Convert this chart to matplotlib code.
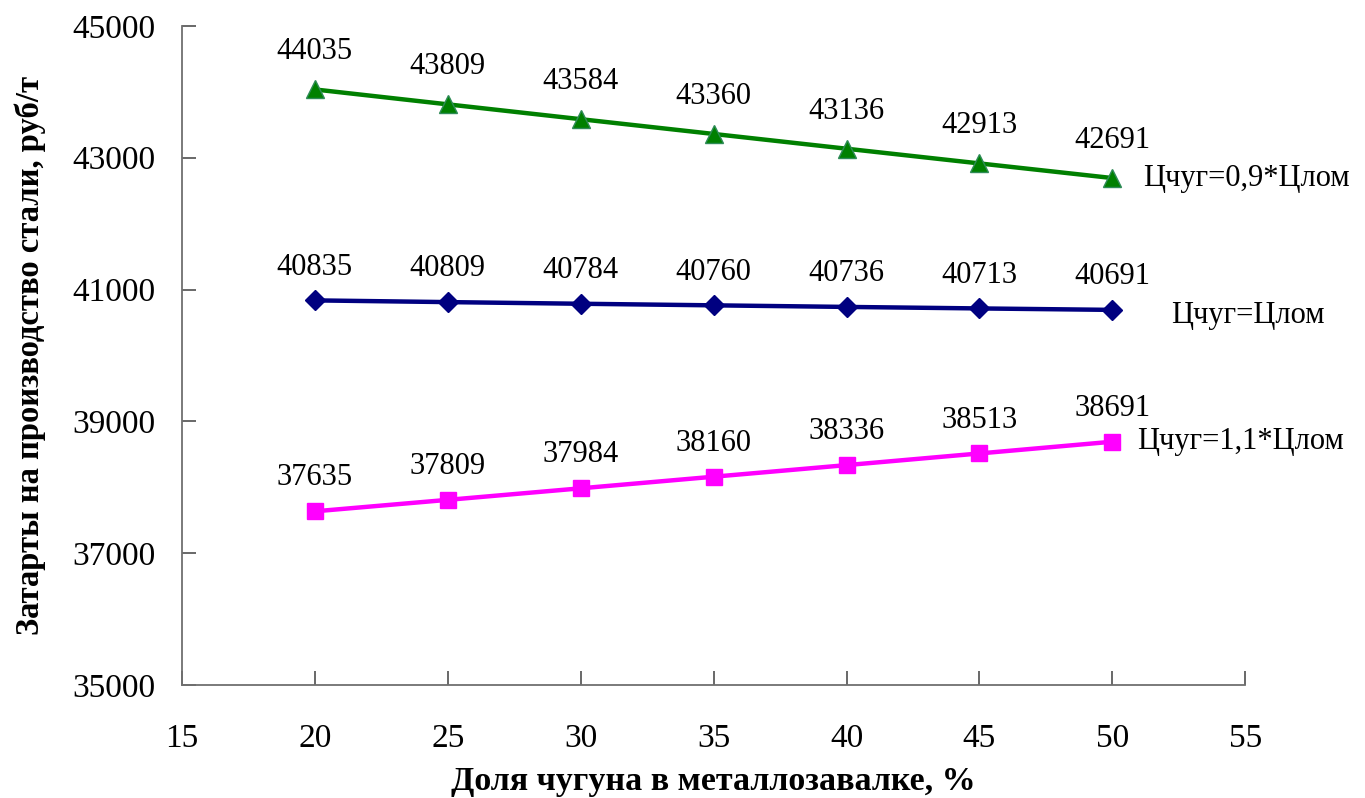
import matplotlib
matplotlib.use("Agg")
import matplotlib.pyplot as plt

plt.rcParams['font.family'] = ['Liberation Serif', 'DejaVu Serif']

# доля чугуна, %
share = [20, 25, 30, 35, 40, 45, 50]

cost_09 = [44035, 43809, 43584, 43360, 43136, 42913, 42691]
cost_10 = [40835, 40809, 40784, 40760, 40736, 40713, 40691]
cost_11 = [37635, 37809, 37984, 38160, 38336, 38513, 38691]

names = ['Цчуг=0,9*Цлом', 'Цчуг=Цлом', 'Цчуг=1,1*Цлом']

xticks = [15, 20, 25, 30, 35, 40, 45, 50, 55]
yticks = [35000, 37000, 39000, 41000, 43000, 45000]

fig = plt.figure(figsize=(13.65, 7.98), dpi=100)
ax = fig.add_axes([0.1333, 0.1416, 0.779, 0.826])

series = [
    (cost_09, '#008000', '^', 13, 27, (22, 0)),
    (cost_10, '#000080', 'D', 10, 24, (42, -4)),
    (cost_11, '#FF00FF', 's', 12, 24, (18, 0)),
]

for (vals, col, mk, ms, dy, lab_off), name in zip(series, names):
    mec = '#2e8b57' if mk == '^' else col
    ax.plot(share, vals, color=col, lw=3.2, marker=mk, ms=ms,
            mfc=col, mec=mec, mew=1, zorder=3, clip_on=False)
    for x, v in zip(share, vals):
        ax.annotate(str(v), (x, v), xytext=(0, dy), textcoords='offset points',
                    ha='center', va='center', fontsize=22)
    ax.annotate(name, (share[-1], vals[-1]), xytext=lab_off,
                textcoords='offset points', ha='left', va='center',
                fontsize=22)

ax.set_xlim(15, 55)
ax.set_ylim(35000, 45000)
ax.set_xticks(xticks)
ax.set_yticks(yticks)

for s in ['top', 'right']:
    ax.spines[s].set_visible(False)
for s in ['left', 'bottom']:
    ax.spines[s].set_color('#707070')
    ax.spines[s].set_linewidth(1.3)

ax.tick_params(direction='in', length=10, width=1.1, color='#404040',
               labelsize=24, pad=19)
ax.tick_params(axis='x', pad=28)

ax.set_xlabel('Доля чугуна в металлозавалке, %', fontsize=24.5,
              fontweight='bold', labelpad=8)
ax.set_ylabel('Затарты на производство стали, руб/т', fontsize=23.5,
              fontweight='bold', labelpad=19)

fig.savefig('out.png', dpi=100)
